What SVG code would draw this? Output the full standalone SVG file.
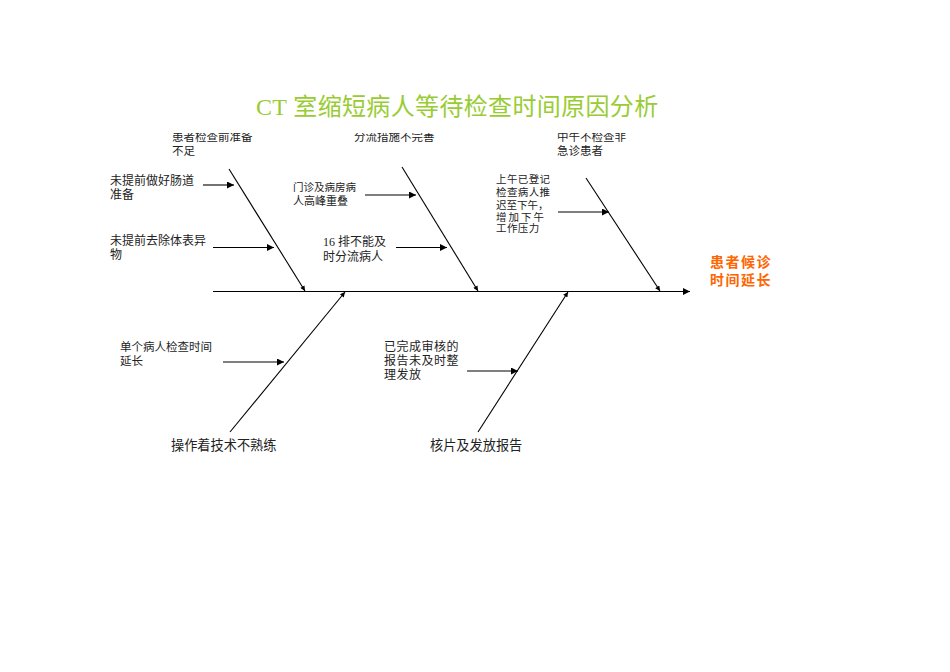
<svg xmlns="http://www.w3.org/2000/svg" width="950" height="672" viewBox="0 0 950 672">
<style>
.t{font-family:"Liberation Serif","Noto Sans CJK SC",serif;fill:#222;}
.s{font-size:11.5px;}
.m{font-size:13.2px;}
.ln{stroke:#000;stroke-width:1.1;fill:none;}
.ar{stroke:#000;stroke-width:1.1;fill:none;marker-end:url(#ah);}
</style>
<defs>
<marker id="ah" viewBox="0 0 10 10" refX="10" refY="5" markerWidth="8" markerHeight="7" markerUnits="userSpaceOnUse" orient="auto">
<path d="M0,0 L10,5 L0,10 z" fill="#000"/>
</marker>
<marker id="ah2" viewBox="0 0 10 10" refX="10" refY="5" markerWidth="6" markerHeight="5" markerUnits="userSpaceOnUse" orient="auto">
<path d="M0,0 L10,5 L0,10 z" fill="#000"/>
</marker>
<clipPath id="cut"><rect x="0" y="133" width="950" height="60"/></clipPath>
</defs>
<rect width="950" height="672" fill="#fff"/>
<text id="title" x="256" y="115" class="t" style="font-size:24px;fill:#99cc33;letter-spacing:0.35px">CT 室缩短病人等待检查时间原因分析</text>

<g id="connectors">
<line class="ar" x1="213" y1="291.5" x2="690" y2="291.5"/>
<line class="ln" x1="229" y1="169" x2="305" y2="291" style="marker-end:url(#ah2)"/>
<line class="ln" x1="402" y1="167" x2="478" y2="291" style="marker-end:url(#ah2)"/>
<line class="ln" x1="586" y1="178" x2="660" y2="291" style="marker-end:url(#ah2)"/>
<line class="ln" x1="230" y1="432" x2="345" y2="292" style="marker-end:url(#ah2)"/>
<line class="ln" x1="478" y1="432" x2="568" y2="292" style="marker-end:url(#ah2)"/>
<line class="ar" x1="203" y1="185" x2="234" y2="185"/>
<line class="ar" x1="213" y1="247.5" x2="274" y2="247.5"/>
<line class="ar" x1="365" y1="195" x2="416" y2="195"/>
<line class="ar" x1="396" y1="247.5" x2="447" y2="247.5"/>
<line class="ar" x1="558" y1="212" x2="609" y2="212"/>
<line class="ar" x1="223" y1="362" x2="284" y2="362"/>
<line class="ar" x1="467" y1="371" x2="518" y2="371"/>
</g>

<g id="effect">
<text x="710" y="267" class="t" style="font-size:14px;font-weight:bold;fill:#ff6600;letter-spacing:1.5px">患者候诊</text>
<text x="710" y="285" class="t" style="font-size:14px;font-weight:bold;fill:#ff6600;letter-spacing:1.5px">时间延长</text>
</g>

<g id="cat-prep" clip-path="url(#cut)">
<text x="172" y="141" class="t s">患者检查前准备</text>
<text x="172" y="155" class="t s">不足</text>
</g>
<g id="cat-divert" clip-path="url(#cut)">
<text x="354" y="141" class="t s">分流措施不完善</text>
</g>
<g id="cat-noon" clip-path="url(#cut)">
<text x="557" y="141" class="t s">中午不检查非</text>
<text x="557" y="155" class="t s">急诊患者</text>
</g>

<g id="c1">
<text x="110" y="185" class="t s" style="font-size:12px">未提前做好肠道</text>
<text x="110" y="199" class="t s" style="font-size:12px">准备</text>
</g>
<g id="c2">
<text x="110" y="245" class="t s" style="font-size:12px">未提前去除体表异</text>
<text x="110" y="259" class="t s" style="font-size:12px">物</text>
</g>
<g id="c3">
<text x="293" y="191" class="t" style="font-size:10.5px">门诊及病房病</text>
<text x="293" y="205" class="t" style="font-size:11px">人高峰重叠</text>
</g>
<g id="c4">
<text x="323" y="246" class="t" style="font-size:12px">16 排不能及</text>
<text x="323" y="261" class="t" style="font-size:12px">时分流病人</text>
</g>
<g id="c5">
<text x="496" y="183" class="t" style="font-size:10.5px;letter-spacing:0.4px">上午已登记</text>
<text x="496" y="196" class="t" style="font-size:10.5px;letter-spacing:0.4px">检查病人推</text>
<text x="496" y="209" class="t" style="font-size:10.5px">迟至下午，</text>
<text x="496" y="221" class="t" style="font-size:10.5px;letter-spacing:2px">增加下午</text>
<text x="496" y="232" class="t" style="font-size:10.5px;letter-spacing:0.4px">工作压力</text>
</g>
<g id="c6">
<text x="120" y="351" class="t s">单个病人检查时间</text>
<text x="120" y="365" class="t s">延长</text>
</g>
<g id="c7">
<text x="384" y="351" class="t" style="font-size:12px;letter-spacing:0.5px">已完成审核的</text>
<text x="384" y="365" class="t" style="font-size:12px;letter-spacing:0.5px">报告未及时整</text>
<text x="384" y="379" class="t" style="font-size:12px;letter-spacing:0.5px">理发放</text>
</g>
<g id="cat-skill">
<text x="171" y="450" class="t m">操作着技术不熟练</text>
</g>
<g id="cat-report">
<text x="430" y="450" class="t m">核片及发放报告</text>
</g>
</svg>
